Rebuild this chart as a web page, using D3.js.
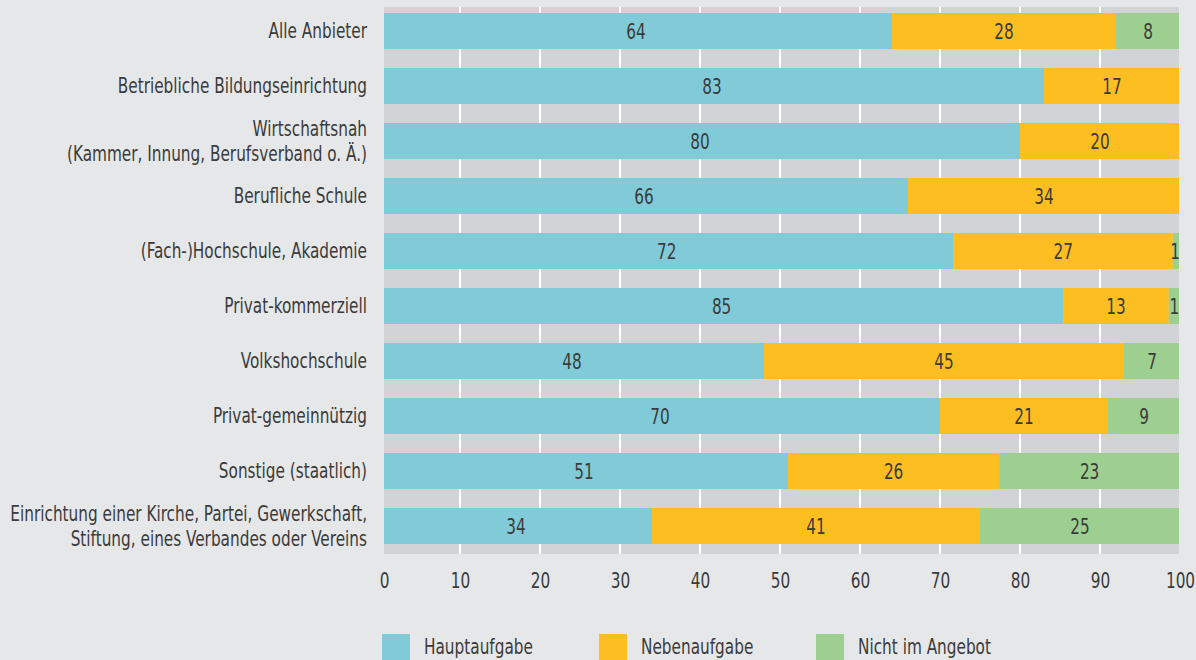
<!DOCTYPE html>
<html>
<head>
<meta charset="utf-8">
<script src="https://cdn.jsdelivr.net/npm/d3@7"></script>
<style>
  body { margin: 0; background: #e6e7e9; }
  text { font-family: "Liberation Sans Narrow", "DejaVu Sans Condensed", "Roboto", sans-serif; fill: #3b3b3b; }
</style>
</head>
<body>
<script>
// Constants
const width = 1196;
const height = 660;
const fontSize = '21px';
const squeeze = 0.81; // the source font is narrower than what we have

const categories = [
  ['Alle Anbieter'],
  ['Betriebliche Bildungseinrichtung'],
  ['Wirtschaftsnah', '(Kammer, Innung, Berufsverband o. Ä.)'],
  ['Berufliche Schule'],
  ['(Fach-)Hochschule, Akademie'],
  ['Privat-kommerziell'],
  ['Volkshochschule'],
  ['Privat-gemeinnützig'],
  ['Sonstige (staatlich)'],
  ['Einrichtung einer Kirche, Partei, Gewerkschaft,', 'Stiftung, eines Verbandes oder Vereins']
];
const seriesNames = ['Hauptaufgabe', 'Nebenaufgabe', 'Nicht im Angebot'];
const haupt = [64, 83, 80, 66, 71.7, 85.4, 48, 70, 51, 34];
const neben = [28, 17, 20, 34, 27.4, 13.2, 45, 21, 26.4, 41];
const nicht = [8, 0, 0, 0, 0.9, 1.4, 7, 9, 22.6, 25];
const xTicks = [0, 10, 20, 30, 40, 50, 60, 70, 80, 90, 100];
const colors = ['#81cbd8', '#fdbe22', '#9dcf91'];

const rows = categories.map((c, i) => ({
  key: i, label: c, haupt: haupt[i], neben: neben[i], nicht: nicht[i]
}));
const keys = ['haupt', 'neben', 'nicht'];

const svg = d3.select('body')
  .append('svg')
  .attr('width', width)
  .attr('height', height);

// Scales
const x = d3.scaleLinear().domain([0, 100]).range([380, 1180]);
const y = d3.scaleBand()
  .domain(rows.map((d) => d.key))
  .range([7, 550])
  .paddingInner(0.3455)
  .paddingOuter(0.109);

const plotLeft = 384;
const plotTop = 7;
const plotBottom = y.range()[1] + 4;

// Plot background
svg.append('rect')
  .attr('x', plotLeft)
  .attr('y', plotTop)
  .attr('width', x(100) - 1 - plotLeft)
  .attr('height', plotBottom - plotTop)
  .attr('fill', '#d1d3d5');

svg.append('clipPath')
  .attr('id', 'plotclip')
  .append('rect')
  .attr('x', plotLeft)
  .attr('y', plotTop)
  .attr('width', x(100) - 1 - plotLeft)
  .attr('height', plotBottom - plotTop);

// Gridlines
svg.append('g')
  .selectAll('line')
  .data(xTicks.filter((t) => t > 0 && t < 100))
  .join('line')
  .attr('x1', (d) => x(d))
  .attr('x2', (d) => x(d))
  .attr('y1', plotTop)
  .attr('y2', plotBottom)
  .attr('stroke', '#ffffff')
  .attr('stroke-width', 2);

// Bars
const stack = d3.stack().keys(keys)(rows);
const barsG = svg.append('g').attr('clip-path', 'url(#plotclip)');
stack.forEach((layer, li) => {
  barsG.append('g')
    .selectAll('rect')
    .data(layer.filter((d) => d[1] - d[0] > 0))
    .join('rect')
    .attr('x', (d) => x(d[0]))
    .attr('y', (d) => y(d.data.key))
    .attr('width', (d) => x(d[1]) - x(d[0]))
    .attr('height', y.bandwidth())
    .attr('fill', colors[li]);
});

// Value labels
const fmt = d3.format('.0f');
stack.forEach((layer) => {
  svg.append('g')
    .selectAll('text')
    .data(layer.filter((d) => d[1] - d[0] > 0))
    .join('text')
    .attr('transform', (d) => {
      const cx = Math.min(x((d[0] + d[1]) / 2), 1175);
      const cy = y(d.data.key) + y.bandwidth() / 2;
      return `translate(${cx},${cy}) scale(${squeeze},1)`;
    })
    .attr('dy', '0.36em')
    .attr('text-anchor', 'middle')
    .attr('font-size', fontSize)
    .text((d) => fmt(d[1] - d[0]));
});

// Category labels
const labG = svg.append('g');
rows.forEach((r) => {
  const cy = y(r.key) + y.bandwidth() / 2;
  const n = r.label.length;
  labG.append('text')
    .attr('transform', `translate(367,${cy}) scale(${squeeze},1)`)
    .attr('text-anchor', 'end')
    .attr('font-size', fontSize)
    .selectAll('tspan')
    .data(r.label)
    .join('tspan')
    .attr('x', 0)
    .attr('y', (d, i) => 7 + (i - (n - 1) / 2) * 25)
    .text((d) => d);
});

// Axis
const xAxis = d3.axisBottom(x).tickValues(xTicks).tickSize(0).tickPadding(0);
const axisG = svg.append('g')
  .attr('transform', 'translate(0, 573)')
  .call(xAxis);
axisG.select('.domain').remove();
axisG.selectAll('text')
  .attr('font-size', fontSize)
  .attr('dy', '0.71em')
  .attr('fill', '#3b3b3b')
  .attr('font-family', null)
  .attr('transform', (d) => `translate(${d === 0 ? 4 : 0},0) scale(${squeeze},1)`);

// Legend
const legend = svg.append('g')
  .selectAll('g')
  .data(seriesNames)
  .join('g')
  .attr('transform', (d, i) => `translate(${382 + i * 217}, 634)`);

legend.append('rect')
  .attr('width', 28)
  .attr('height', 28)
  .attr('fill', (d, i) => colors[i]);

legend.append('text')
  .attr('transform', `translate(42,20) scale(${squeeze},1)`)
  .attr('font-size', fontSize)
  .text((d) => d);
</script>
</body>
</html>
